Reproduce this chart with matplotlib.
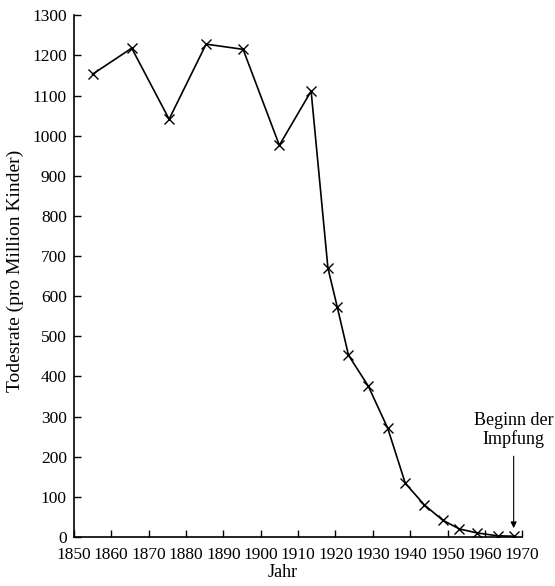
import matplotlib.pyplot as plt
import numpy as np

# Daten
jahre = [1855, 1865.5, 1875.5, 1885.4, 1895.3, 1905, 1913.5, 1918, 1920.5,
         1923.5, 1928.8, 1934, 1938.7, 1943.8, 1948.7, 1953.2, 1958, 1963.4, 1967.7]
rate = [1153, 1218, 1041, 1228, 1215, 976, 1111, 670, 573,
        453, 376, 271, 134, 80, 42, 20, 10, 3, 2]
xticks = np.arange(1850, 1971, 10)
yticks = np.arange(0, 1301, 100)

plt.rcParams['font.family'] = ['Liberation Serif', 'DejaVu Serif']

fig = plt.figure(figsize=(5.55, 5.86), dpi=100)
ax = fig.add_axes([0.133, 0.0836, 0.808, 0.8904])

ax.plot(jahre, rate, 'k-', lw=1.2, marker='x', ms=7, mew=1.0)

ax.set_xlim(1850, 1970)
ax.set_ylim(0, 1300)
ax.set_xticks(xticks)
ax.set_yticks(yticks)
ax.tick_params(direction='in', length=5, width=1, labelsize=12.5)
ax.tick_params(axis='x', pad=7)
ax.tick_params(axis='y', pad=5)
for s in ('top', 'right'):
    ax.spines[s].set_visible(False)
ax.spines['left'].set_linewidth(1.2)
ax.spines['bottom'].set_linewidth(1.2)

ax.set_ylabel('Todesrate (pro Million Kinder)', fontsize=14)
ax.yaxis.set_label_coords(-0.11, 0.51)
ax.set_xlabel('Jahr', fontsize=13)
ax.xaxis.set_label_coords(0.465, -0.052)

ax.annotate('Beginn der\nImpfung', xy=(1967.7, 22), xytext=(1967.7, 222),
            ha='center', va='bottom', fontsize=13, linespacing=1.1,
            arrowprops=dict(arrowstyle='-|>', color='k', lw=0.8,
                            shrinkA=4, shrinkB=0, mutation_scale=9))

fig.savefig('out.png', dpi=100)
